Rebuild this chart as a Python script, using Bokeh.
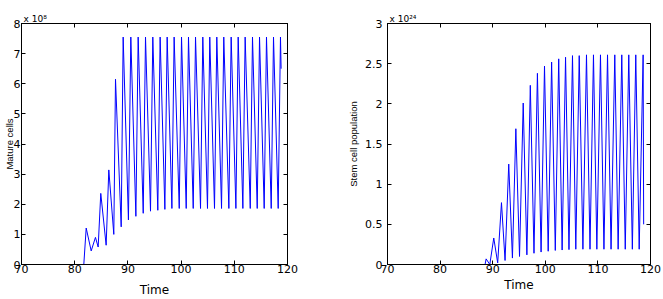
from bokeh.plotting import figure
from bokeh.layouts import row
from bokeh.models import LinearAxis, FixedTicker, Range1d, Title
from bokeh.embed import file_html
from bokeh.resources import INLINE

# ---------------- data: left panel (Mature cells, x 10^8) ----------------
mature_rise_start = 81.71
mature_peak_t = [82.16, 83.9, 84.9, 86.41, 87.67, 89.11, 90.55, 91.93, 93.31, 94.68,
                 96.06, 97.38, 98.69, 100.08, 101.39, 102.71, 104.08, 105.39, 106.71,
                 108.02, 109.41, 110.73, 112.04, 113.42, 114.74, 116.05, 117.37, 118.68]
mature_peak_v = [1.21, 0.9, 2.36, 3.14, 6.15, 7.55, 7.55, 7.55, 7.55, 7.55,
                 7.55, 7.55, 7.55, 7.55, 7.55, 7.55, 7.55, 7.55, 7.55,
                 7.55, 7.55, 7.55, 7.55, 7.55, 7.55, 7.55, 7.55, 7.55]
mature_trough_t = [83.1, 84.41, 85.91, 87.35, 88.74, 90.1, 91.5, 92.88, 94.25, 95.62,
                   96.95, 98.27, 99.65, 100.96, 102.28, 103.65, 104.96, 106.28, 107.6,
                   108.98, 110.3, 111.61, 113.0, 114.31, 115.62, 116.94, 118.25]
mature_trough_v = [0.45, 0.58, 0.64, 1.0, 1.25, 1.48, 1.6, 1.7, 1.77, 1.8,
                   1.83, 1.86, 1.86, 1.86, 1.86, 1.86, 1.86, 1.86, 1.86,
                   1.86, 1.86, 1.86, 1.86, 1.86, 1.86, 1.86, 1.86]
mature_end = (118.8, 6.5)

# ---------------- data: right panel (Stem cells, x 10^24) ----------------
stem_rise_start = 88.55
stem_peak_t = [88.75, 90.2, 91.67, 93.05, 94.4, 95.8, 97.15, 98.5, 99.85, 101.2,
               102.55, 103.85, 105.17, 106.45, 107.83, 109.16, 110.49, 111.83,
               113.21, 114.54, 115.87, 117.2, 118.6]
stem_peak_v = [0.07, 0.33, 0.77, 1.25, 1.69, 2.01, 2.23, 2.38, 2.47, 2.52,
               2.56, 2.58, 2.6, 2.6, 2.61, 2.61, 2.61, 2.61,
               2.61, 2.61, 2.61, 2.61, 2.61]
stem_trough_t = [89.45, 90.95, 92.35, 93.75, 95.1, 96.5, 97.85, 99.2, 100.55, 101.9,
                 103.2, 104.5, 105.8, 107.15, 108.5, 109.8, 111.15, 112.5,
                 113.85, 115.2, 116.55, 117.85]
stem_trough_v = [0.0, 0.02, 0.05, 0.08, 0.1, 0.12, 0.14, 0.155, 0.165, 0.175,
                 0.18, 0.185, 0.19, 0.19, 0.19, 0.19, 0.19, 0.19,
                 0.19, 0.19, 0.19, 0.19]
stem_end = (118.7, 0.5)

x_ticks = [70, 80, 90, 100, 110, 120]
x_tick_labels = ["70", "80", "90", "100", "110", "120"]
left_y_ticks = [0, 1, 2, 3, 4, 5, 6, 7, 8]
left_y_tick_labels = ["0", "1", "2", "3", "4", "5", "6", "7", "8"]
right_y_ticks = [0, 0.5, 1, 1.5, 2, 2.5, 3]
right_y_tick_labels = ["0", "0.5", "1", "1.5", "2", "2.5", "3"]

TICK_FONT = "DejaVu Sans"
LABEL_FONT = "Liberation Sans"


def build_series(start, peak_t, peak_v, trough_t, trough_v, end):
    t = [70.0, start]
    v = [0.0, 0.0]
    for i in range(len(peak_t)):
        t.append(peak_t[i]); v.append(peak_v[i])
        if i < len(trough_t):
            t.append(trough_t[i]); v.append(trough_v[i])
    t.append(end[0]); v.append(end[1])
    return t, v


def style_axis(ax, ticks, labels, show_labels=True):
    ax.ticker = FixedTicker(ticks=ticks)
    ax.major_label_overrides = {k: (l if show_labels else "") for k, l in zip(ticks, labels)}
    ax.major_tick_in = 4
    ax.major_tick_out = 0
    ax.minor_tick_line_color = None
    ax.axis_line_color = "black"
    ax.major_tick_line_color = "black"
    ax.major_label_text_font = TICK_FONT
    ax.major_label_text_font_size = "11px" if show_labels else "0px"
    ax.major_label_text_color = "black"


def make_panel(width, borders, yr, yticks, ylabels, t, v, ylab, ylab_standoff,
               ytick_standoff, exp_text, time_standoff):
    lb, rb, tb, bb = borders
    p = figure(width=width, height=299, x_range=Range1d(70, 120), y_range=Range1d(*yr),
               output_backend="svg", toolbar_location=None,
               min_border_left=lb, min_border_right=rb,
               min_border_top=tb, min_border_bottom=bb,
               background_fill_color="white", border_fill_color="white",
               outline_line_color="black")
    p.title = Title(text=exp_text, align="left", text_font=TICK_FONT,
                    text_font_size="9px", text_font_style="normal",
                    text_color="black", offset=2, standoff=0)
    p.xgrid.visible = False
    p.ygrid.visible = False

    xa = p.xaxis[0]
    style_axis(xa, x_ticks, x_tick_labels)
    xa.major_label_standoff = 0
    xa.axis_label = "Time"
    xa.axis_label_text_font = TICK_FONT
    xa.axis_label_text_font_size = "12px"
    xa.axis_label_text_font_style = "normal"
    xa.axis_label_text_color = "black"
    xa.axis_label_standoff = time_standoff

    ya = p.yaxis[0]
    style_axis(ya, yticks, ylabels)
    ya.major_label_standoff = ytick_standoff
    ya.axis_label = ylab
    ya.axis_label_text_font = LABEL_FONT
    ya.axis_label_text_font_size = "9.5px"
    ya.axis_label_text_font_style = "normal"
    ya.axis_label_text_color = "black"
    ya.axis_label_standoff = ylab_standoff

    top = LinearAxis()
    style_axis(top, x_ticks, x_tick_labels, show_labels=False)
    top.major_label_standoff = 0
    p.add_layout(top, "above")
    right = LinearAxis()
    style_axis(right, yticks, ylabels, show_labels=False)
    right.major_label_standoff = 0
    p.add_layout(right, "right")

    p.line(t, v, line_color="#0000ff", line_width=1)
    return p


lt, lv = build_series(mature_rise_start, mature_peak_t, mature_peak_v,
                      mature_trough_t, mature_trough_v, mature_end)
rt, rv = build_series(stem_rise_start, stem_peak_t, stem_peak_v,
                      stem_trough_t, stem_trough_v, stem_end)

p1 = make_panel(331, (21, 44, 23, 34), (0, 8), left_y_ticks, left_y_tick_labels,
                lt, lv, "Mature cells", -4, 1, "x 10\u2078", 7)
p2 = make_panel(332, (56, 13, 23, 34), (0, 3), right_y_ticks, right_y_tick_labels,
                rt, rv, "Stem cell population", 3, 5, "x 10\u00b2\u2074", 2)

layout = row(p1, p2)
open("out.html", "w").write(file_html(layout, INLINE))
